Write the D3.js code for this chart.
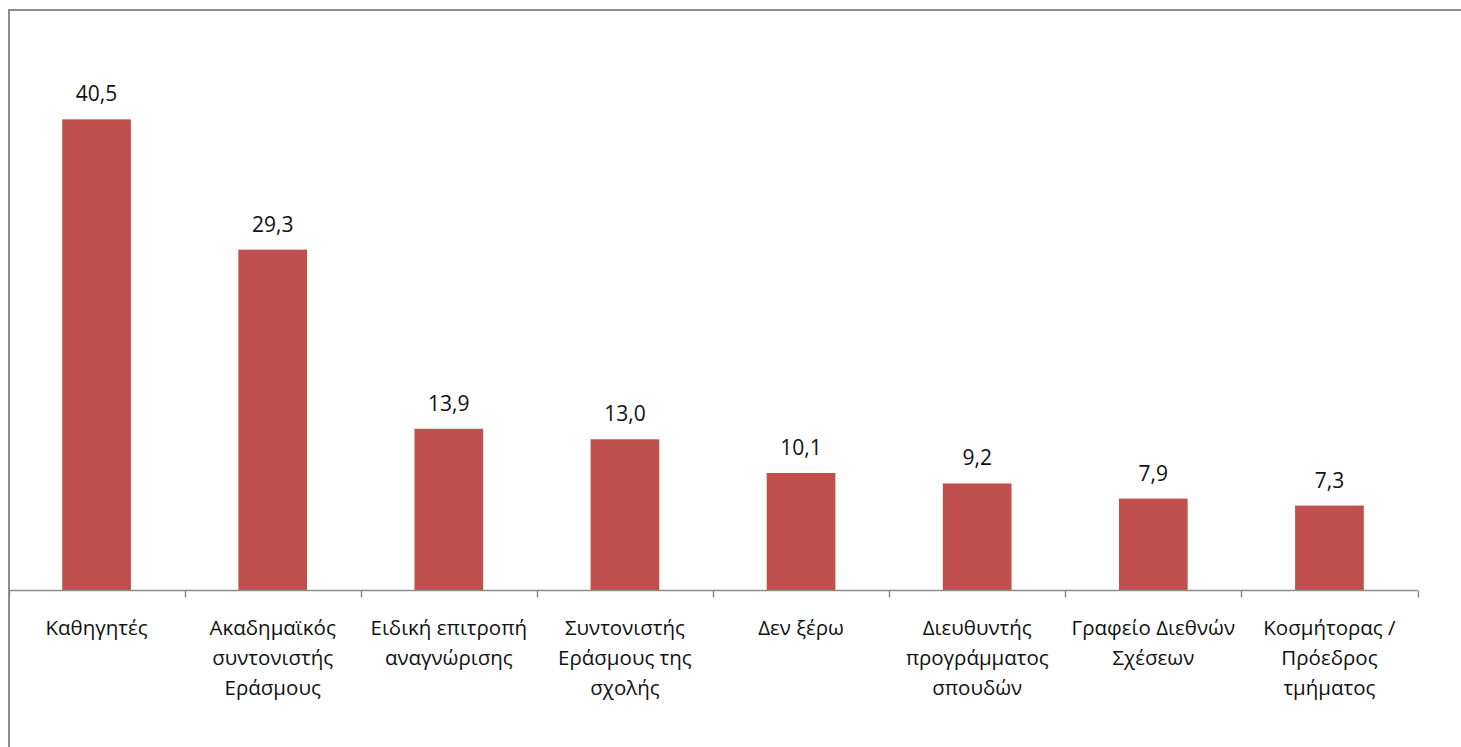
<!DOCTYPE html>
<html>
<head>
<meta charset="utf-8">
<script src="https://cdn.jsdelivr.net/npm/d3@7"></script>
<style>
  html, body { margin: 0; padding: 0; background: #fff; overflow: hidden; }
  svg { display: block; }
  text { font-family: "Open Sans", "Noto Sans", sans-serif; fill: #111; }
</style>
</head>
<body>
<svg id="chart" width="1461" height="747"></svg>
<script>
const categories = [
  "Καθηγητές",
  "Ακαδημαϊκός\nσυντονιστής\nΕράσμους",
  "Ειδική επιτροπή\nαναγνώρισης",
  "Συντονιστής\nΕράσμους της\nσχολής",
  "Δεν ξέρω",
  "Διευθυντής\nπρογράμματος\nσπουδών",
  "Γραφείο Διεθνών\nΣχέσεων",
  "Κοσμήτορας /\nΠρόεδρος\nτμήματος"
];
const values = [40.5, 29.3, 13.9, 13.0, 10.1, 9.2, 7.9, 7.3];
const valueLabels = ["40,5", "29,3", "13,9", "13,0", "10,1", "9,2", "7,9", "7,3"];

const svg = d3.select("#chart");
const W = 1461, H = 747;

// outer frame (cut off at right and bottom)
svg.append("rect")
  .attr("x", 9).attr("y", 10)
  .attr("width", W + 20).attr("height", H + 20)
  .attr("fill", "#fff")
  .attr("stroke", "#8c8c8c")
  .attr("stroke-width", 2);

const plot = { left: 8.5, right: 1417.5, top: 67, bottom: 590.5 };

const x = d3.scaleBand()
  .domain(d3.range(categories.length))
  .range([plot.left, plot.right])
  .paddingInner(0.61)
  .paddingOuter(0.305);

const xOuter = d3.scaleBand()
  .domain(d3.range(categories.length))
  .range([plot.left, plot.right])
  .padding(0);

const y = d3.scaleLinear().domain([0, 45]).range([plot.bottom, plot.top]);

// bars
svg.append("g").selectAll("rect")
  .data(values)
  .join("rect")
  .attr("x", (d, i) => x(i))
  .attr("width", x.bandwidth())
  .attr("y", d => y(d))
  .attr("height", d => y(0) - y(d))
  .attr("fill", "#c0504d");

// value labels
svg.append("g").selectAll("text")
  .data(values)
  .join("text")
  .attr("x", (d, i) => x(i) + x.bandwidth() / 2)
  .attr("y", d => y(d) - 18)
  .attr("text-anchor", "middle")
  .attr("font-size", 21)
  .text((d, i) => valueLabels[i]);

// x axis line and ticks
const axisG = svg.append("g");
axisG.append("line")
  .attr("x1", plot.left).attr("x2", plot.right)
  .attr("y1", plot.bottom).attr("y2", plot.bottom)
  .attr("stroke", "#8c8c8c").attr("stroke-width", 1.5);
const tickPos = d3.range(categories.length + 1).map(i =>
  i < categories.length ? xOuter(i) : xOuter(i - 1) + xOuter.bandwidth());
axisG.selectAll("line.tick")
  .data(tickPos)
  .join("line")
  .attr("class", "tick")
  .attr("x1", d => Math.round(d) + 0.5).attr("x2", d => Math.round(d) + 0.5)
  .attr("y1", plot.bottom).attr("y2", plot.bottom + 7)
  .attr("stroke", "#8c8c8c").attr("stroke-width", 1.5);

// category labels
const catG = svg.append("g");
categories.forEach((c, i) => {
  const t = catG.append("text")
    .attr("x", xOuter(i) + xOuter.bandwidth() / 2)
    .attr("y", 635)
    .attr("text-anchor", "middle")
    .attr("font-size", 20.5);
  c.split("\n").forEach((line, j) => {
    t.append("tspan")
      .attr("x", xOuter(i) + xOuter.bandwidth() / 2)
      .attr("dy", j === 0 ? 0 : 30)
      .text(line);
  });
});
</script>
</body>
</html>
